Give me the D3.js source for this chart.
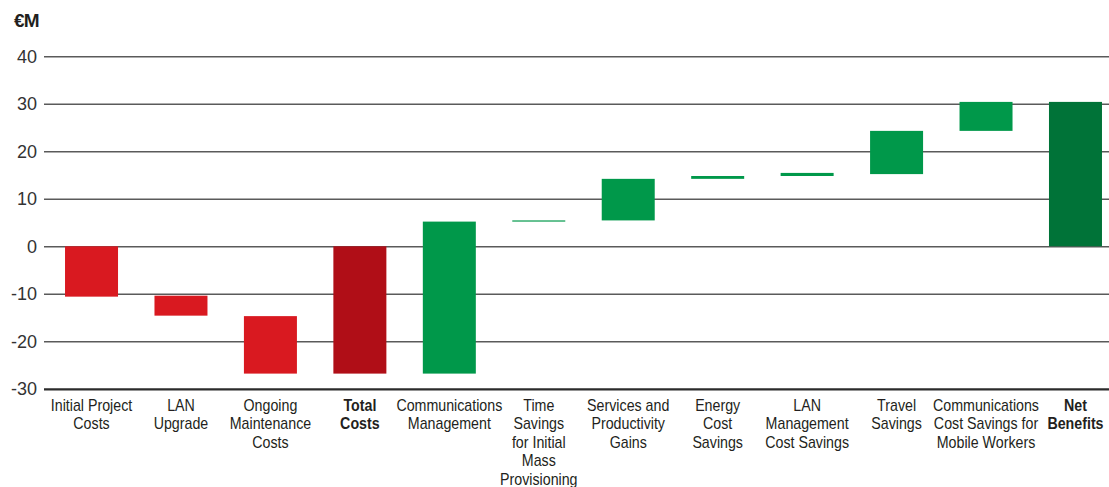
<!DOCTYPE html>
<html>
<head>
<meta charset="utf-8">
<script src="https://cdn.jsdelivr.net/npm/d3@7"></script>
<style>
  html, body { margin: 0; padding: 0; background: #ffffff; }
  svg { display: block; }
  text { font-family: "Liberation Sans", Arial, Helvetica, sans-serif; }
</style>
</head>
<body>
<svg id="chart" width="1109" height="487"></svg>
<script>
// ---- data ----
const categories = [
  ["Initial Project", "Costs"],
  ["LAN", "Upgrade"],
  ["Ongoing", "Maintenance", "Costs"],
  ["Total", "Costs"],
  ["Communications", "Management"],
  ["Time", "Savings", "for Initial", "Mass", "Provisioning"],
  ["Services and", "Productivity", "Gains"],
  ["Energy", "Cost", "Savings"],
  ["LAN", "Management", "Cost Savings"],
  ["Travel", "Savings"],
  ["Communications", "Cost Savings for", "Mobile Workers"],
  ["Net", "Benefits"]
];
const barStart = [0, -10.4, -14.7, 0, -26.8, 5.2, 5.45, 14.2, 14.8, 15.2, 24.3, 0];
const barEnd   = [-10.6, -14.6, -26.8, -26.8, 5.2, 5.45, 14.2, 14.8, 15.45, 24.3, 30.4, 30.4];
const barKind  = ["cost", "cost", "cost", "total", "gain", "gain", "gain", "gain", "gain", "gain", "gain", "net"];
const yTicks   = [-30, -20, -10, 0, 10, 20, 30, 40];
const unitLabel = "€M";

// ---- drawing ----
const svg = d3.select("#chart");
const colors = { cost: "#d91920", total: "#b00e17", gain: "#00984a", net: "#007338" };
const boldKinds = new Set(["total", "net"]);

const y = d3.scaleLinear().domain([-30, 40]).range([388.8, 56.3]);
const x = d3.scaleBand()
  .domain(d3.range(categories.length))
  .range([46.8, 46.8 + 89.45 * categories.length])
  .paddingInner(0.4075)
  .paddingOuter(0.4075 / 2);

// gridlines + tick labels
const axisX = 44;
const axis = d3.axisLeft(y)
  .tickValues(yTicks)
  .tickSize(-(1109 - axisX))
  .tickPadding(7)
  .tickFormat(d => String(d));
const gAxis = svg.append("g").attr("transform", `translate(${axisX},0)`).call(axis);
gAxis.select(".domain").remove();
gAxis.selectAll(".tick line")
  .attr("stroke", d => d === -30 ? "#2b2b2b" : "#5a5a5a")
  .attr("stroke-width", d => d === -30 ? 2.2 : 1.5);
gAxis.selectAll(".tick text")
  .attr("fill", "#333333")
  .attr("font-size", 18)
  .attr("font-family", "'Liberation Sans', Arial, sans-serif")
  .attr("dy", "0.34em");

svg.append("text")
  .attr("x", 14).attr("y", 27)
  .attr("font-size", 19).attr("font-weight", "bold")
  .attr("fill", "#231f20")
  .attr("letter-spacing", "-0.8")
  .text(unitLabel);

// bars
svg.append("g").selectAll("rect")
  .data(d3.range(categories.length))
  .join("rect")
  .attr("x", i => x(i))
  .attr("width", x.bandwidth())
  .attr("y", i => y(Math.max(barStart[i], barEnd[i])))
  .attr("height", i => Math.max(1, Math.abs(y(barStart[i]) - y(barEnd[i]))))
  .attr("fill", i => colors[barKind[i]]);

// category labels
const lineH = 18.5;
const gLab = svg.append("g");
categories.forEach((lines, i) => {
  const cx = x(i) + x.bandwidth() / 2;
  const t = gLab.append("text")
    .attr("transform", `translate(${cx},410.7) scale(0.89,1)`)
    .attr("text-anchor", "middle")
    .attr("font-size", 16)
    .attr("font-weight", boldKinds.has(barKind[i]) ? "bold" : "normal")
    .attr("fill", "#231f20");
  lines.forEach((ln, k) => {
    t.append("tspan").attr("x", 0).attr("y", k * lineH).text(ln);
  });
});
</script>
</body>
</html>
